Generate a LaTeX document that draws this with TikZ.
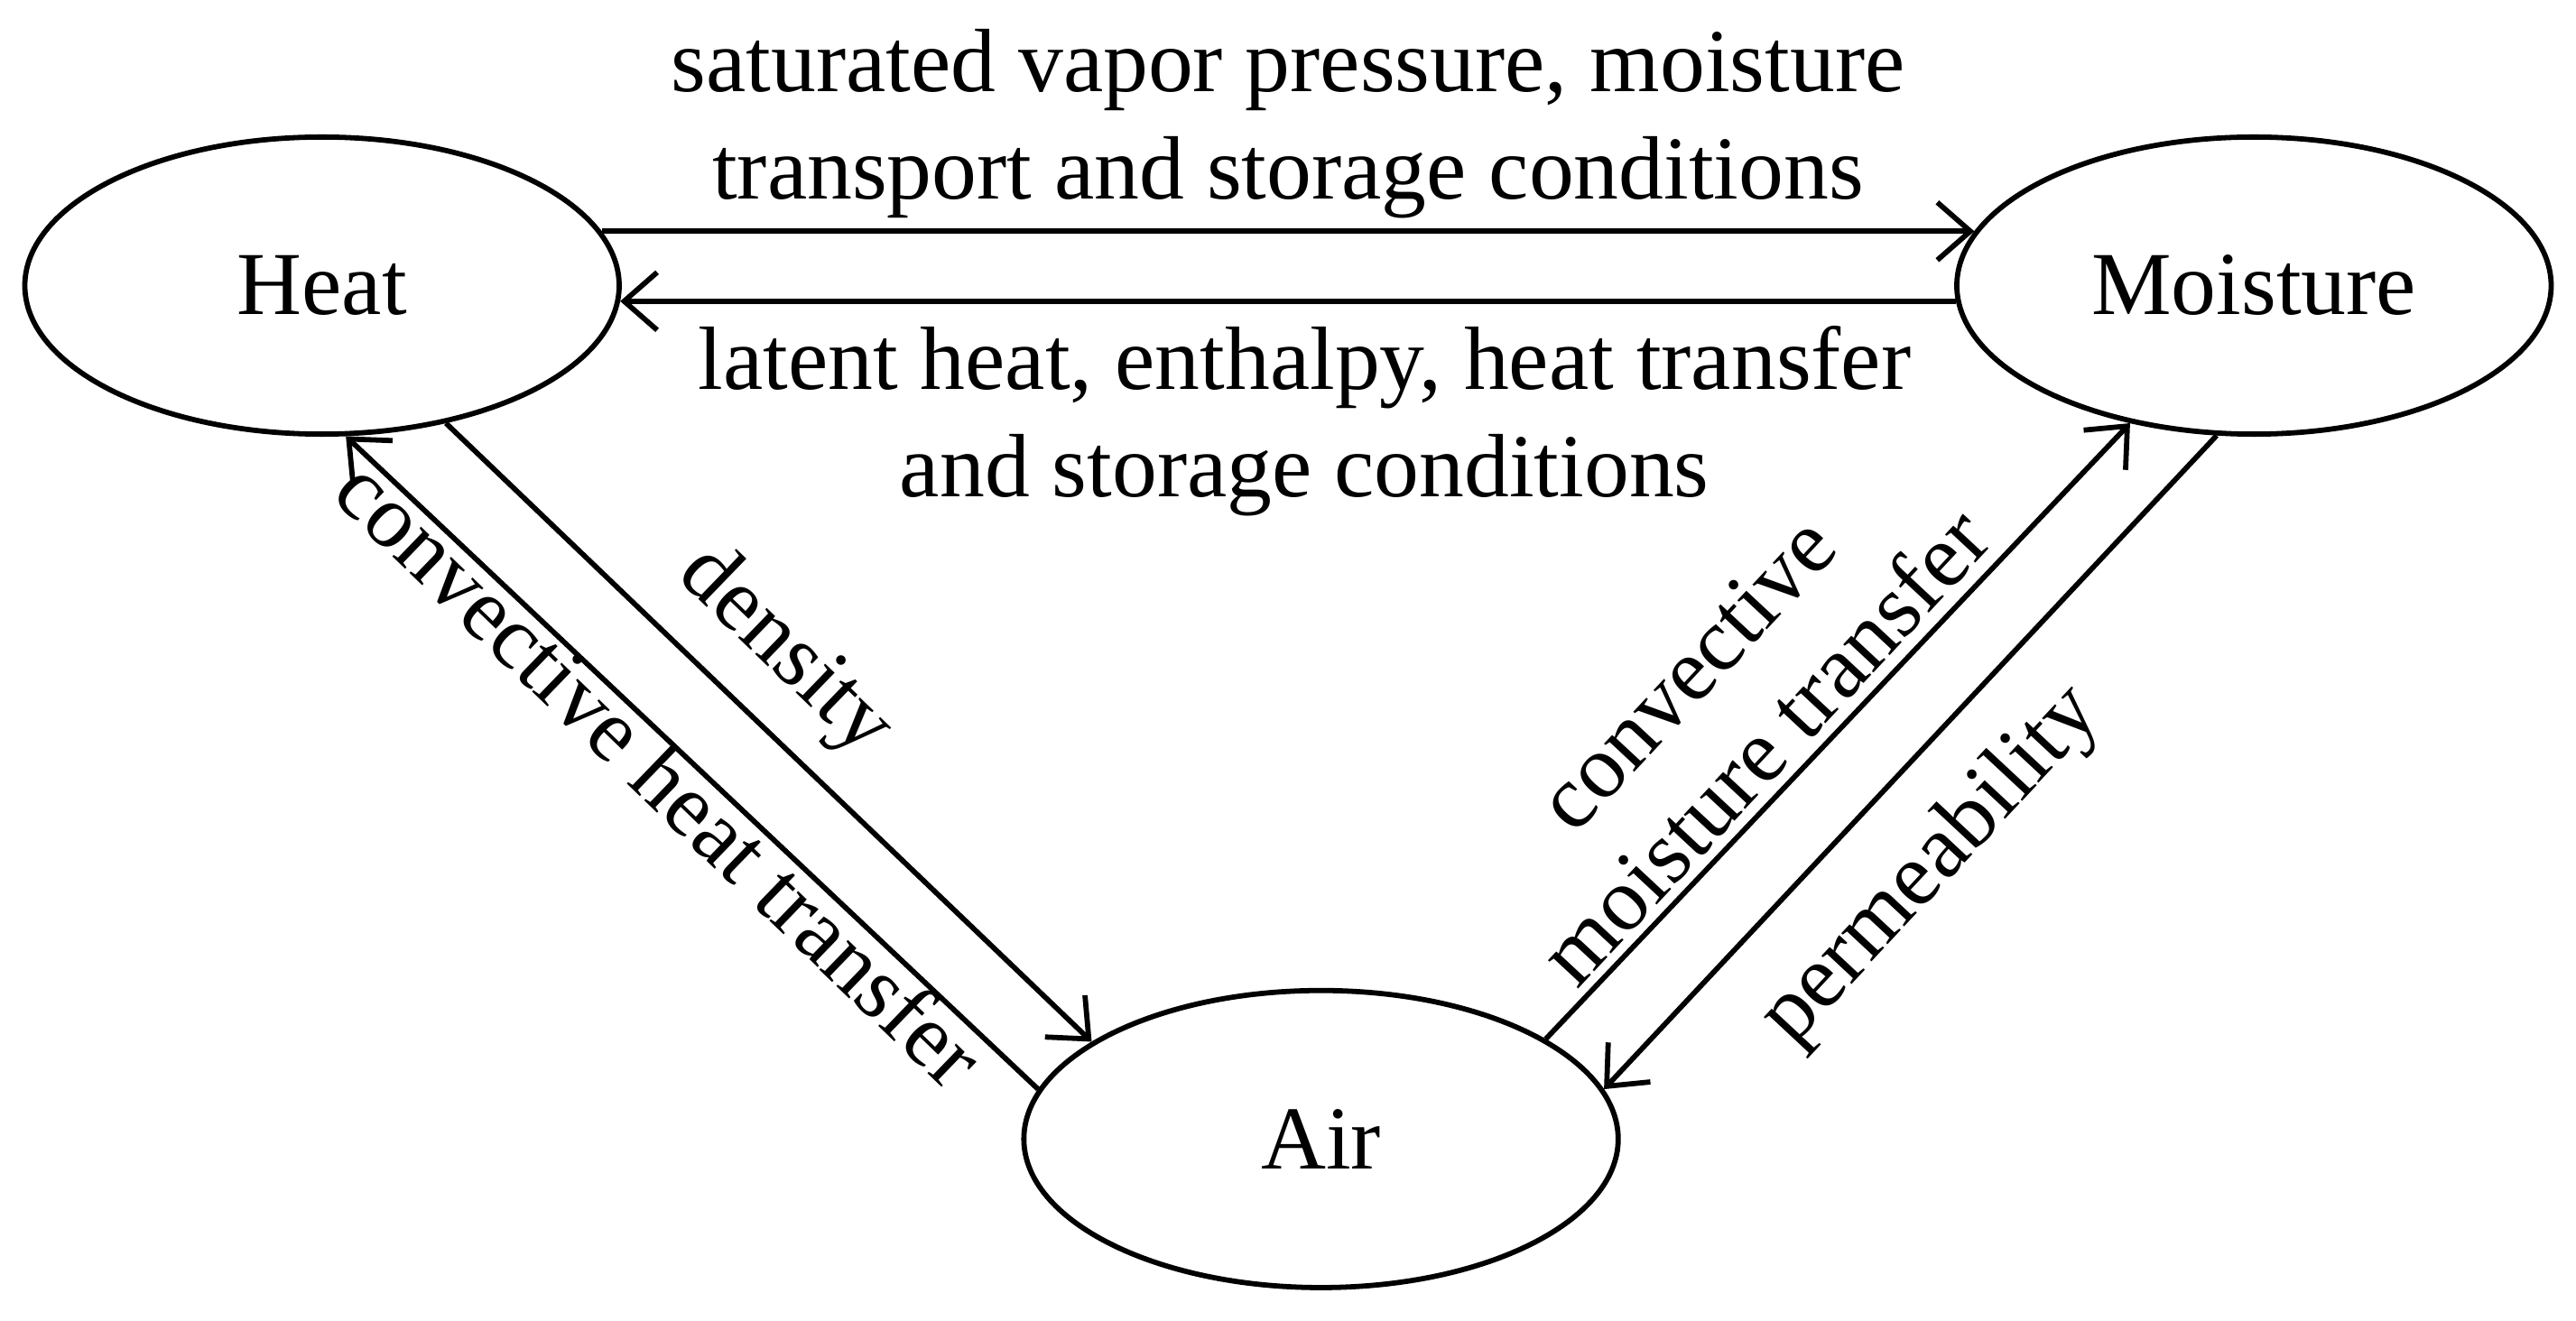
\documentclass[tikz,border=0pt]{standalone}
\usepackage{fontspec}
\setmainfont{Liberation Serif}
\usetikzlibrary{shapes.geometric,arrows.meta}
\begin{document}
\begin{tikzpicture}[x=0.02cm,y=-0.02cm,
	state/.style={draw,ellipse,line width=1.8pt,minimum width=7.2cm,minimum height=3.6cm,font=\fontsize{31}{37}\selectfont},
	link/.style={line width=1.8pt,-{Straight Barb[length=4mm,width=7mm,line width=1.8pt]}},
	lbl/.style={align=center,font=\fontsize{31}{37}\selectfont}]
			\useasboundingbox (0,0) rectangle (1560,800);
			\node[state] (heat) at (195,173) {Heat};
			\node[state] (moist) at (1365,173) {Moisture};
			\node[state] (air) at (800,690) {Air};

			\draw[link] (heat.11) to (moist.169);
			\draw[link] (moist.183) to (heat.-3);
			\draw[link] (heat.-48) to (air.157);
			\draw[link] (air.170) to (heat.-81);
			\draw[link] (air.24) to (moist.-132);
			\draw[link] (moist.-104) to (air.10);

			\node[lbl] (t1) at (780,75) {saturated vapor pressure, moisture\\transport and storage conditions};
			\node[lbl] (t2) at (790,255) {latent heat, enthalpy, heat transfer\\and storage conditions};
			\node[lbl,rotate=-44] (t3) at (475,395) {density};
			\node[lbl,rotate=-44] (t4) at (400,468) {convective heat transfer};
			\node[lbl,rotate=47] (t5) at (1045,430) {convective\\moisture transfer};
			\node[lbl,rotate=47] (t6) at (1170,525) {permeability};
		\end{tikzpicture}
\end{document}
